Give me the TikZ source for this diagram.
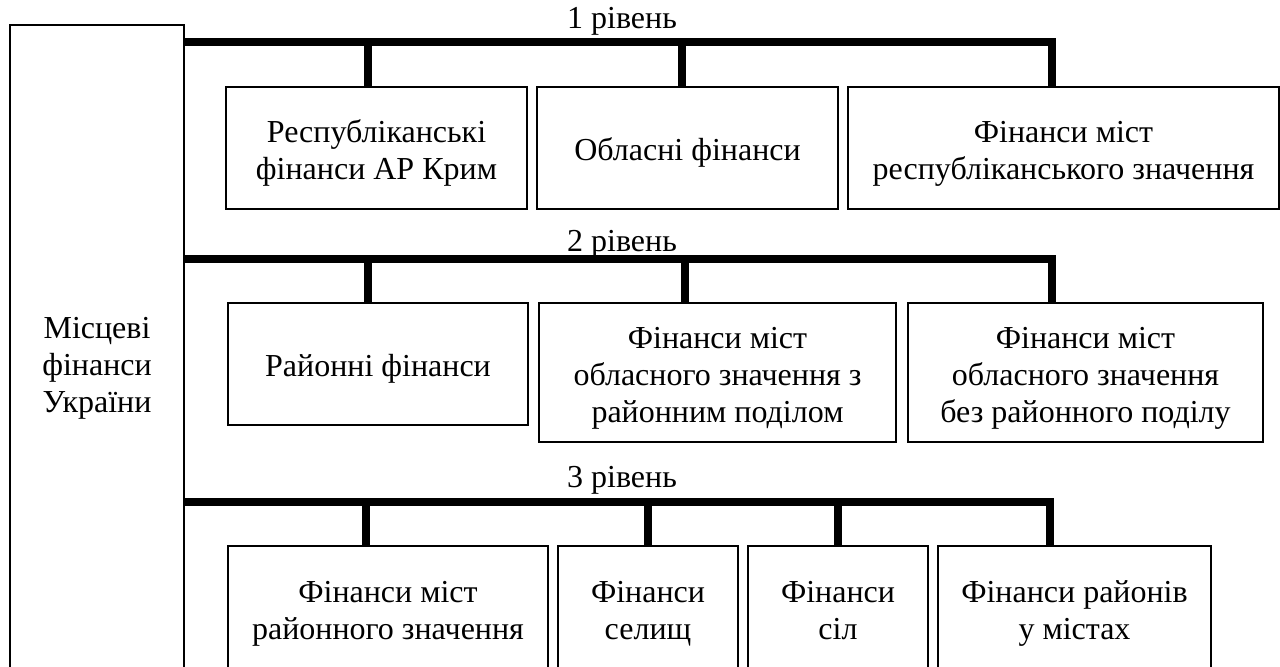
\documentclass[tikz,border=0pt]{standalone}
\usepackage{fontspec}
\setmainfont{Liberation Serif}
\newcommand\lift{\rule{0pt}{18.5pt}}
\begin{document}
\begin{tikzpicture}[x=0.5pt,y=-0.5pt,
        box/.style={draw,line width=1.2pt,align=center,inner sep=0pt,
            font=\fontsize{16}{18.5}\selectfont,execute at end node=\strut},
        bus/.style={line width=4pt},
        level/.style={anchor=base,font=\fontsize{16}{18.5}\selectfont}]
        \clip (0,0) rectangle (1280,667);

        \node[box,minimum width=87pt,minimum height=337.5pt] (local) at (97,362.5) {\lift Місцеві\\фінанси\\України};

        \node[level] (t1) at (622,29) {1 рівень};
        \node[level] (t2) at (622,252) {2 рівень};
        \node[level] (t3) at (622,488) {3 рівень};

        \node[box,minimum width=150.5pt,minimum height=61pt] (r1a) at (376.5,148) {\lift Республіканські\\фінанси АР Крим};
        \node[box,minimum width=150.5pt,minimum height=61pt] (r1b) at (687.5,148) {\lift Обласні фінанси};
        \node[box,minimum width=215.5pt,minimum height=61pt] (r1c) at (1063.5,148) {\lift Фінанси міст\\республіканського значення};

        \node[box,minimum width=150pt,minimum height=61pt] (r2a) at (378,364) {\lift Районні фінанси};
        \node[box,minimum width=178.5pt,minimum height=69.5pt] (r2b) at (717.5,372.5) {\lift Фінанси міст\\обласного значення з\\районним поділом};
        \node[box,minimum width=177.5pt,minimum height=69.5pt] (r2c) at (1085.5,372.5) {\lift Фінанси міст\\обласного значення\\без районного поділу};

        \node[box,minimum width=160pt,minimum height=62pt] (r3a) at (388,608) {\lift Фінанси міст\\районного значення};
        \node[box,minimum width=90pt,minimum height=62pt] (r3b) at (648,608) {\lift Фінанси\\селищ};
        \node[box,minimum width=90pt,minimum height=62pt] (r3c) at (838,608) {\lift Фінанси\\сіл};
        \node[box,minimum width=136.5pt,minimum height=62pt] (r3d) at (1074.5,608) {\lift Фінанси районів\\у містах};

        \coordinate (b1) at (184,42);
        \coordinate (b2) at (184,259);
        \coordinate (b3) at (184,502);
        \coordinate (e1) at (1052,42);
        \coordinate (e2) at (1052,259);
        \coordinate (e3) at (1050,502);

        \draw[bus] (b1) -- (e1) -- (e1 |- r1c.north);
        \draw[bus] (b2) -- (e2) -- (e2 |- r2c.north);
        \draw[bus] (b3) -- (e3) -- (e3 |- r3d.north);

        \foreach \x/\n in {368/r1a,682/r1b}{
            \coordinate (d) at (\x,42);
            \draw[bus] (d) -- (d |- \n.north);
        }
        \foreach \x/\n in {368/r2a,685/r2b}{
            \coordinate (d) at (\x,259);
            \draw[bus] (d) -- (d |- \n.north);
        }
        \foreach \x/\n in {366/r3a,648/r3b,838/r3c}{
            \coordinate (d) at (\x,502);
            \draw[bus] (d) -- (d |- \n.north);
        }
    \end{tikzpicture}
\end{document}
